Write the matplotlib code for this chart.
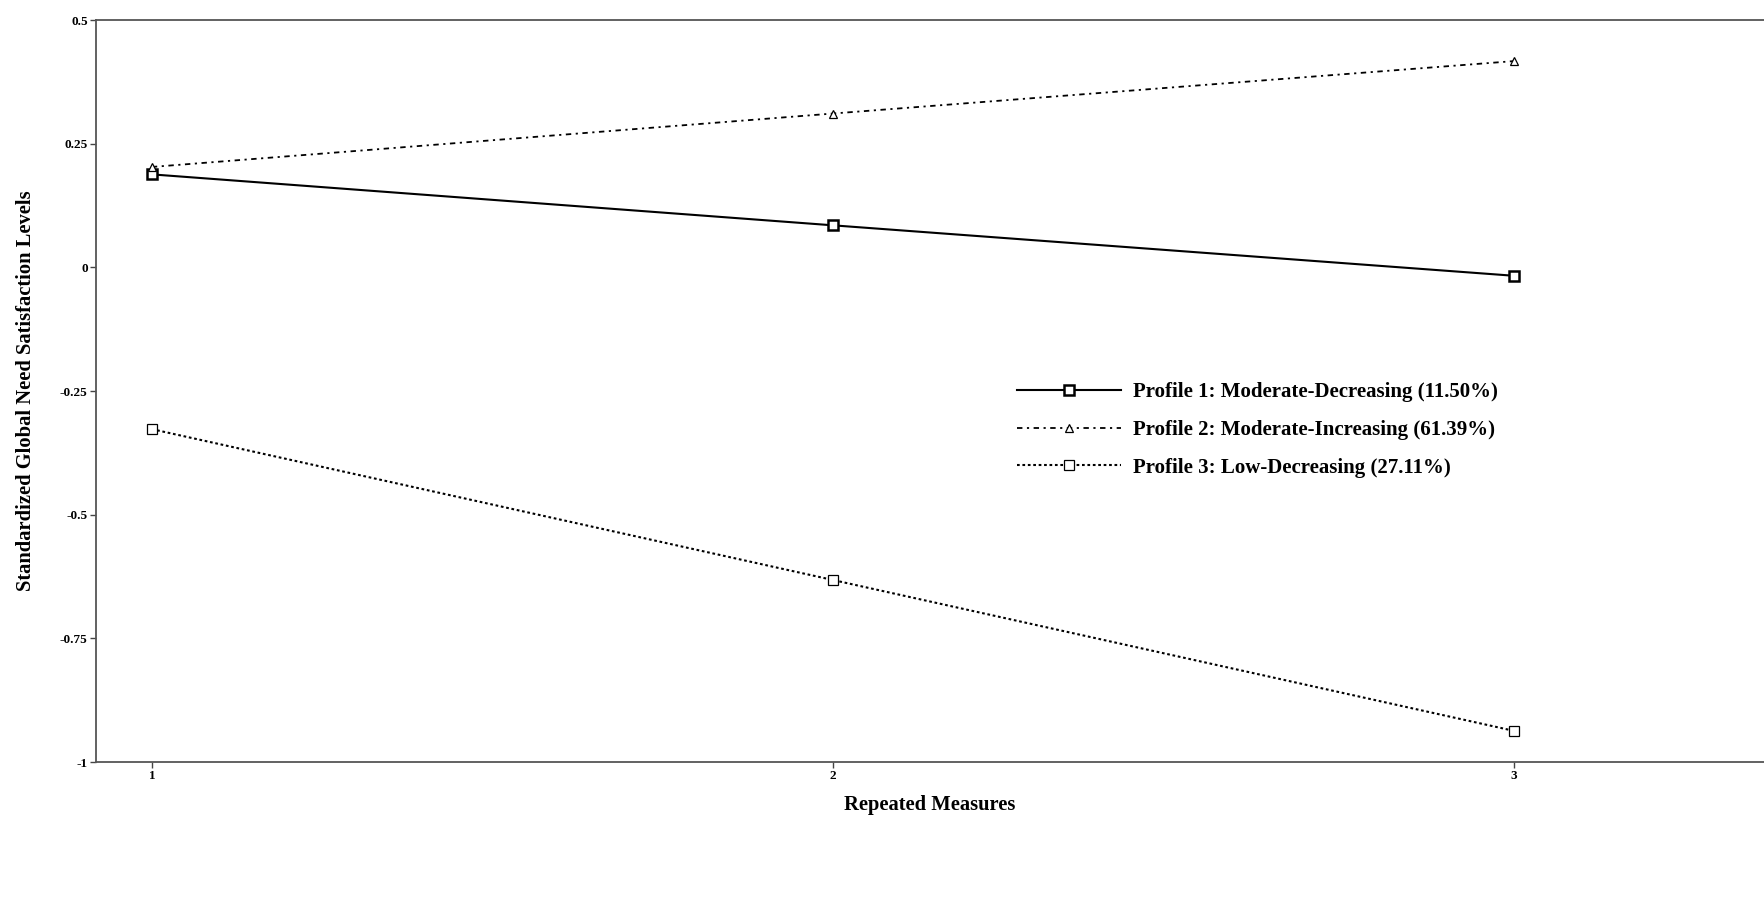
import matplotlib
matplotlib.use('Agg')
from matplotlib import pyplot as plt

plt.rcParams['font.family'] = ['Liberation Serif', 'DejaVu Serif']
plt.rcParams['font.weight'] = 'bold'

measures = [1, 2, 3]
profile1 = [0.188, 0.085, -0.017]
profile2 = [0.203, 0.311, 0.417]
profile3 = [-0.327, -0.632, -0.937]

labels = ['Profile 1: Moderate-Decreasing (11.50%)',
          'Profile 2: Moderate-Increasing (61.39%)',
          'Profile 3: Low-Decreasing (27.11%)']
yticks = [0.5, 0.25, 0, -0.25, -0.5, -0.75, -1]
ytick_labels = ['0.5', '0.25', '0', '-0.25', '-0.5', '-0.75', '-1']

fig = plt.figure(figsize=(17.64, 9.19), dpi=100)
ax = fig.add_axes([0.0544, 0.1708, 0.9456, 0.8074])

ax.plot(measures, profile1, color='black', linestyle='-', linewidth=1.5,
        marker='s', markersize=6.5, markerfacecolor='white', markeredgewidth=1.8,
        label=labels[0])
ax.plot(measures, profile2, color='black', linestyle=(0, (3, 2.5, 1.2, 2.5)), linewidth=1.3,
        marker='^', markersize=5.5, markerfacecolor='white', markeredgewidth=0.9,
        label=labels[1])
ax.plot(measures, profile3, color='black', linestyle=(0, (1.3, 1.3)), linewidth=1.5,
        marker='s', markersize=6.5, markerfacecolor='white', markeredgewidth=0.9,
        label=labels[2])

ax.set_xlim(0.918, 3.367)
ax.set_ylim(-1, 0.5)
ax.set_xticks(measures)
ax.set_xticklabels([str(m) for m in measures])
ax.set_yticks(yticks)
ax.set_yticklabels(ytick_labels)
ax.tick_params(labelsize=9.5, length=4, width=1, color='#444444', pad=2)

ax.spines['right'].set_visible(False)
for s in ['top', 'left', 'bottom']:
    ax.spines[s].set_color('#555555')
    ax.spines[s].set_linewidth(1.3)

ax.set_xlabel('Repeated Measures', fontsize=14.8, fontweight='bold', labelpad=9)
ax.set_ylabel('Standardized Global Need Satisfaction Levels', fontsize=14.8,
              fontweight='bold', labelpad=17)

leg = ax.legend(loc='upper left', bbox_to_anchor=(0.541, 0.537), frameon=False,
                fontsize=15, handlelength=5.0, handletextpad=0.55, labelspacing=0.85)
for t in leg.get_texts():
    t.set_fontweight('bold')

fig.savefig('out.png', dpi=100)
